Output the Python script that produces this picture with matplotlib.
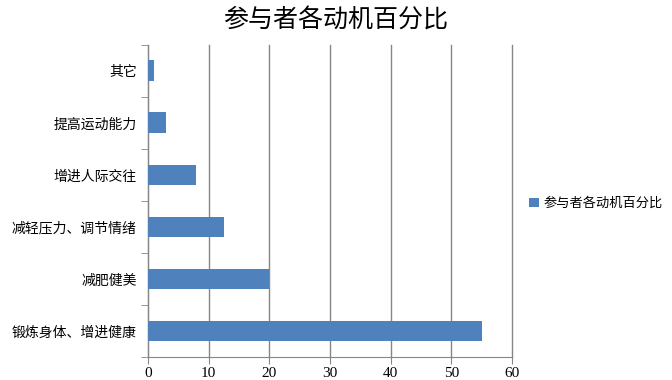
import matplotlib
matplotlib.use('Agg')
from matplotlib import pyplot as plt
import numpy as np

categories = ['锻炼身体、增进健康', '减肥健美', '减轻压力、调节情绪', '增进人际交往', '提高运动能力', '其它']
values = [55, 20, 12.5, 8, 3, 1]
series_name = '参与者各动机百分比'
xticks = [0, 10, 20, 30, 40, 50, 60]

cjk = ['Noto Sans CJK SC', 'DejaVu Sans']
plt.rcParams['font.family'] = cjk

fig = plt.figure(figsize=(6.72, 3.80), dpi=100)
ax = fig.add_axes([0.220, 0.0605, 0.542, 0.8215])

pos = np.arange(len(categories))
ax.barh(pos, values, height=0.4, color='#4F81BD', label=series_name, zorder=3)

ax.set_xlim(0, 60)
ax.set_ylim(-0.5, len(categories) - 0.5)
ax.set_xticks(xticks)
ax.set_xticklabels([str(t) for t in xticks], family='Liberation Serif', fontsize=11)
ax.set_yticks(pos)
ax.set_yticklabels(categories, fontsize=10)
ax.set_yticks(np.arange(-0.5, len(categories), 1), minor=True)
ax.tick_params(axis='y', which='major', length=0, pad=8)
ax.tick_params(axis='y', which='minor', length=5, color='#868686')
ax.tick_params(axis='x', length=5, color='#868686', pad=2)

ax.grid(axis='x', color='#868686', linewidth=1, zorder=0)
for line in ax.get_xgridlines():
    line.set_clip_on(False)
for s in ['top', 'right']:
    ax.spines[s].set_visible(False)
ax.spines['left'].set_color('#868686')
ax.spines['bottom'].set_color('#868686')

fig.text(0.5, 0.945, series_name, ha='center', va='center', fontsize=18)
fig.legend(loc='center left', bbox_to_anchor=(0.77, 0.465), frameon=False,
           fontsize=9.5, handlelength=0.7, handleheight=0.7, handletextpad=0.4)

plt.savefig('out.png', dpi=100)
